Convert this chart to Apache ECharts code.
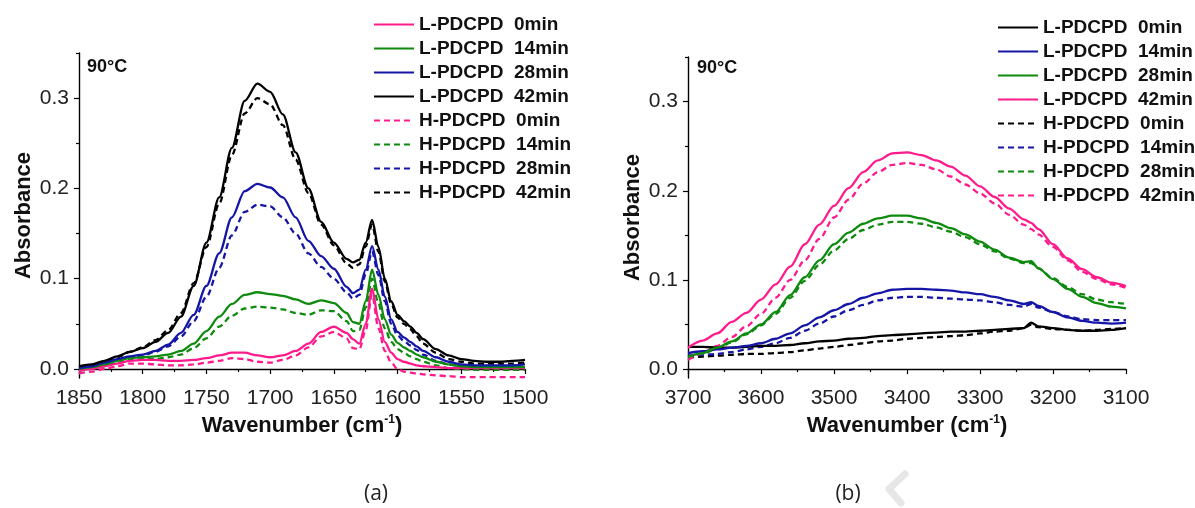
<!DOCTYPE html>
<html>
<head>
<meta charset="utf-8">
<script src="https://cdn.jsdelivr.net/npm/echarts@6/dist/echarts.min.js"></script>
<style>html,body{margin:0;padding:0;background:#fff;}#c{width:1195px;height:508px;}</style>
</head>
<body>
<div id="c"></div>
<script>
// ---------- data (a): 1850-1500 cm-1 ----------
const waveA = [1850,1840,1830,1820,1810,1800,1790,1780,1770,1760,1750,1740,1730,1720,1710,1700,1690,1680,1670,1660,1650,1640,1635,1630,1625,1620,1615,1610,1605,1600,1595,1590,1585,1580,1570,1560,1550,1540,1530,1520,1510,1500];
const a_L0  = [-0.002,0.000,0.003,0.006,0.009,0.010,0.010,0.009,0.009,0.010,0.012,0.015,0.018,0.018,0.015,0.013,0.015,0.020,0.028,0.041,0.047,0.040,0.033,0.028,0.050,0.089,0.055,0.030,0.018,0.011,0.008,0.006,0.004,0.003,0.002,0.001,0.001,0.001,0.001,0.001,0.001,0.001];
const a_L14 = [0.000,0.002,0.005,0.009,0.012,0.013,0.014,0.016,0.020,0.028,0.042,0.058,0.072,0.082,0.085,0.083,0.081,0.077,0.072,0.076,0.073,0.062,0.052,0.050,0.075,0.110,0.082,0.055,0.038,0.029,0.024,0.020,0.016,0.013,0.008,0.005,0.003,0.002,0.002,0.002,0.002,0.002];
const a_L28 = [0.001,0.003,0.007,0.011,0.014,0.016,0.020,0.027,0.040,0.060,0.092,0.128,0.168,0.197,0.205,0.201,0.190,0.168,0.142,0.125,0.111,0.091,0.084,0.088,0.110,0.136,0.110,0.080,0.055,0.041,0.035,0.030,0.025,0.020,0.013,0.008,0.005,0.004,0.004,0.004,0.004,0.005];
const a_L42 = [0.003,0.005,0.009,0.014,0.019,0.023,0.030,0.040,0.058,0.092,0.140,0.190,0.245,0.297,0.316,0.307,0.282,0.240,0.200,0.163,0.140,0.122,0.118,0.121,0.140,0.165,0.135,0.100,0.075,0.060,0.053,0.047,0.040,0.033,0.022,0.015,0.011,0.009,0.008,0.008,0.009,0.010];
const a_H0  = [-0.005,-0.003,0.000,0.003,0.006,0.006,0.005,0.004,0.004,0.005,0.007,0.009,0.012,0.011,0.008,0.007,0.010,0.015,0.024,0.036,0.041,0.034,0.023,0.022,0.043,0.083,0.045,0.020,0.007,0.000,-0.003,-0.004,-0.005,-0.006,-0.007,-0.008,-0.009,-0.009,-0.009,-0.009,-0.009,-0.009];
const a_H14 = [-0.002,0.000,0.003,0.007,0.010,0.011,0.011,0.013,0.016,0.023,0.034,0.047,0.059,0.067,0.069,0.068,0.066,0.062,0.060,0.065,0.064,0.053,0.042,0.043,0.068,0.100,0.072,0.045,0.030,0.022,0.018,0.014,0.011,0.008,0.004,0.001,0.000,-0.001,-0.001,-0.001,-0.001,-0.001];
const a_H28 = [0.000,0.002,0.006,0.010,0.013,0.015,0.019,0.025,0.036,0.053,0.080,0.112,0.148,0.174,0.182,0.180,0.168,0.150,0.128,0.113,0.100,0.085,0.078,0.082,0.105,0.130,0.104,0.075,0.050,0.037,0.031,0.026,0.021,0.016,0.009,0.005,0.003,0.002,0.002,0.002,0.002,0.002];
const a_H42 = [0.002,0.004,0.008,0.013,0.019,0.024,0.032,0.043,0.062,0.095,0.135,0.183,0.237,0.283,0.300,0.293,0.270,0.232,0.195,0.160,0.137,0.117,0.112,0.116,0.136,0.160,0.130,0.097,0.072,0.057,0.050,0.044,0.036,0.028,0.018,0.011,0.008,0.006,0.006,0.006,0.006,0.007];

// ---------- data (b): 3700-3100 cm-1 ----------
const waveB = [3700,3680,3660,3640,3620,3600,3580,3560,3540,3520,3500,3480,3460,3440,3420,3400,3380,3360,3340,3320,3300,3280,3260,3240,3230,3220,3200,3180,3160,3140,3120,3100];
const b_L0  = [0.025,0.025,0.024,0.024,0.025,0.026,0.026,0.027,0.029,0.031,0.032,0.034,0.035,0.037,0.038,0.039,0.040,0.041,0.042,0.042,0.043,0.044,0.045,0.046,0.052,0.048,0.046,0.044,0.043,0.043,0.044,0.046];
const b_L14 = [0.018,0.020,0.022,0.024,0.026,0.029,0.034,0.040,0.049,0.058,0.066,0.073,0.080,0.085,0.089,0.090,0.090,0.089,0.088,0.086,0.084,0.081,0.077,0.073,0.075,0.071,0.064,0.058,0.054,0.052,0.051,0.052];
const b_L28 = [0.014,0.018,0.024,0.031,0.040,0.050,0.064,0.083,0.103,0.122,0.140,0.153,0.163,0.169,0.172,0.172,0.169,0.164,0.158,0.151,0.143,0.134,0.125,0.120,0.121,0.113,0.101,0.090,0.081,0.074,0.070,0.068];
const b_L42 = [0.024,0.032,0.040,0.053,0.063,0.078,0.095,0.115,0.140,0.162,0.183,0.203,0.221,0.234,0.242,0.243,0.240,0.234,0.227,0.217,0.205,0.193,0.180,0.168,0.164,0.157,0.140,0.124,0.112,0.103,0.097,0.093];
const b_H0  = [0.013,0.014,0.015,0.016,0.017,0.017,0.018,0.019,0.021,0.023,0.025,0.027,0.029,0.031,0.032,0.034,0.035,0.036,0.037,0.038,0.040,0.042,0.043,0.046,0.050,0.047,0.045,0.044,0.043,0.044,0.045,0.046];
const b_H14 = [0.015,0.016,0.017,0.019,0.022,0.025,0.029,0.035,0.043,0.051,0.059,0.066,0.072,0.077,0.080,0.081,0.081,0.080,0.079,0.078,0.077,0.075,0.072,0.070,0.073,0.069,0.064,0.059,0.056,0.055,0.055,0.055];
const b_H28 = [0.012,0.017,0.023,0.030,0.039,0.049,0.062,0.080,0.099,0.117,0.133,0.146,0.156,0.162,0.165,0.165,0.163,0.159,0.154,0.148,0.140,0.132,0.124,0.119,0.119,0.113,0.102,0.092,0.084,0.078,0.075,0.073];
const b_H42 = [0.010,0.018,0.026,0.036,0.048,0.062,0.080,0.100,0.122,0.146,0.170,0.190,0.208,0.221,0.229,0.231,0.229,0.224,0.216,0.207,0.197,0.186,0.173,0.162,0.157,0.151,0.137,0.122,0.109,0.101,0.095,0.091];

// ---------- labels / ticks ----------
const namesA = ['L-PDCPD  0min','L-PDCPD  14min','L-PDCPD  28min','L-PDCPD  42min','H-PDCPD  0min','H-PDCPD  14min','H-PDCPD  28min','H-PDCPD  42min'];
const namesB = namesA.map(n => n + '\u200b');
const yMajor = [0, 0.1, 0.2, 0.3];
const yMinor = [0.05, 0.15, 0.25, 0.35];
const tempLabel = '90°C';
const panelLabels = ['(a)', '(b)'];

const PINK = '#ff1a8c', GREEN = '#0e8a0e', BLUE = '#1616a6', BLACK = '#000000';
const FONT = "'Liberation Sans', Arial, sans-serif";

function zip(xs, ys){ return xs.map((x,i)=>[x, ys[i]]); }
function mk(name, xs, ys, color, dashed, xi, yi){
  return {
    name, type:'line', xAxisIndex:xi, yAxisIndex:yi, data: zip(xs, ys),
    showSymbol:false, symbol:'none', smooth:0.3, smoothMonotone:'x',
    lineStyle:{color, width:2.3, type: dashed ? [6,4] : 'solid'},
    itemStyle:{color}, z: dashed ? 3 : 4, animation:false
  };
}

const seriesA = [
  mk(namesA[0], waveA, a_L0, PINK, false, 0, 0),
  mk(namesA[1], waveA, a_L14, GREEN, false, 0, 0),
  mk(namesA[2], waveA, a_L28, BLUE, false, 0, 0),
  mk(namesA[3], waveA, a_L42, BLACK, false, 0, 0),
  mk(namesA[4], waveA, a_H0, PINK, true, 0, 0),
  mk(namesA[5], waveA, a_H14, GREEN, true, 0, 0),
  mk(namesA[6], waveA, a_H28, BLUE, true, 0, 0),
  mk(namesA[7], waveA, a_H42, BLACK, true, 0, 0)
];
const seriesB = [
  mk(namesB[0], waveB, b_L0, BLACK, false, 1, 2),
  mk(namesB[1], waveB, b_L14, BLUE, false, 1, 2),
  mk(namesB[2], waveB, b_L28, GREEN, false, 1, 2),
  mk(namesB[3], waveB, b_L42, PINK, false, 1, 2),
  mk(namesB[4], waveB, b_H0, BLACK, true, 1, 2),
  mk(namesB[5], waveB, b_H14, BLUE, true, 1, 2),
  mk(namesB[6], waveB, b_H28, GREEN, true, 1, 2),
  mk(namesB[7], waveB, b_H42, PINK, true, 1, 2)
];

const axisLine = {show:true, lineStyle:{color:'#000', width:1.4}};
const labelStyle = {fontSize:21, color:'#222', fontFamily:FONT};
const nameStyle = {fontSize:22, fontWeight:'bold', color:'#111', fontFamily:FONT,
  rich:{sup:{fontSize:12, fontWeight:'bold', color:'#111', fontFamily:FONT, verticalAlign:'top', lineHeight:12}}};

function xAx(grid, min, max, interval){
  return {
    type:'value', gridIndex:grid, min, max, interval, inverse:true,
    name:'Wavenumber (cm{sup|-1})', nameLocation:'middle', nameGap:36,
    nameTextStyle: Object.assign({lineHeight:24}, nameStyle),
    axisLine, axisTick:{show:true, inside:false, length:5, lineStyle:{color:'#000', width:1.2}},
    minorTick:{show:true, splitNumber:2, length:3, lineStyle:{color:'#000', width:1.2}},
    axisLabel: Object.assign({margin:10, formatter: v => String(v)}, labelStyle),
    splitLine:{show:false}, minorSplitLine:{show:false}
  };
}
function yAx(grid){
  return {
    type:'value', gridIndex:grid, min:-0.01, max:0.35,
    name:'Absorbance', nameLocation:'middle', nameGap:44, nameTextStyle:nameStyle,
    axisLine,
    axisTick:{show:true, inside:false, length:5, customValues:yMajor, lineStyle:{color:'#000', width:1.2}},
    axisLabel: Object.assign({margin:10, customValues:yMajor, formatter:v=>v.toFixed(1)}, labelStyle),
    splitLine:{show:false}
  };
}
function yMinorAx(grid){
  return {
    type:'value', gridIndex:grid, min:-0.01, max:0.35, position:'left',
    axisLine:{show:false},
    axisTick:{show:true, inside:false, length:3, customValues:yMinor, lineStyle:{color:'#000', width:1.2}},
    axisLabel:{show:false}, splitLine:{show:false}
  };
}

const legendText = {fontSize:19, fontWeight:'bold', color:'#111', fontFamily:FONT};
function legend(left, top, data){
  return {orient:'vertical', left, top, padding:0, itemWidth:40, itemHeight:12, itemGap:5,
    textStyle:legendText, data, selectedMode:false, itemStyle:{opacity:0}};
}

const option = {
  animation:false,
  backgroundColor:'#fff',
  grid:[
    {left:79, top:53, width:446, height:325},
    {left:688, top:57, width:438, height:321}
  ],
  xAxis:[ xAx(0, 1500, 1850, 50), xAx(1, 3100, 3700, 100) ],
  yAxis:[ yAx(0), yMinorAx(0), yAx(1), yMinorAx(1) ],
  legend:[ legend(373, 15, namesA), legend(997, 18, namesB) ],
  graphic:[
    {type:'text', left:87, top:58, style:{text:tempLabel, fontSize:18, fontWeight:'bold', fill:'#111', fontFamily:FONT}},
    {type:'text', left:697, top:59, style:{text:tempLabel, fontSize:18, fontWeight:'bold', fill:'#111', fontFamily:FONT}},
    {type:'text', x:376, y:494, style:{text:panelLabels[0], fontSize:21, fill:'#222', fontFamily:"'Open Sans', sans-serif", align:'center', verticalAlign:'middle'}},
    {type:'text', x:848, y:494, style:{text:panelLabels[1], fontSize:21, fill:'#222', fontFamily:"'Open Sans', sans-serif", align:'center', verticalAlign:'middle'}},
    {type:'polyline', shape:{points:[[905,474],[889,489],[901,503]]}, style:{stroke:'#e6e6e6', lineWidth:7, fill:null, lineCap:'round', lineJoin:'round'}}
  ],
  series: seriesA.concat(seriesB)
};

const chart = echarts.init(document.getElementById('c'), null, {renderer:'canvas'});
chart.setOption(option);
</script>
</body>
</html>
